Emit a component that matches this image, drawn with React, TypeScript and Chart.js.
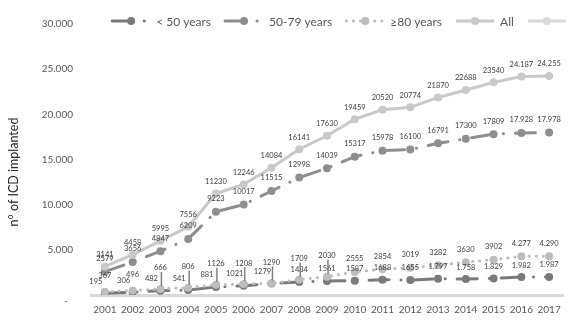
import React, { useEffect, useRef } from 'react';
import { Chart, registerables } from 'chart.js';

Chart.register(...registerables);

// ---------- data ----------
const years = ['2001', '2002', '2003', '2004', '2005', '2006', '2007', '2008', '2009', '2010', '2011', '2012', '2013', '2014', '2015', '2016', '2017'];
const under50 = [195, 306, 482, 541, 881, 1021, 1279, 1434, 1561, 1587, 1688, 1655, 1797, 1758, 1829, 1982, 1987];
const age50to79 = [2579, 3656, 4847, 6209, 9223, 10017, 11515, 12998, 14039, 15317, 15978, 16100, 16791, 17300, 17809, 17928, 17978];
const over80 = [367, 496, 666, 806, 1126, 1208, 1290, 1709, 2030, 2555, 2854, 3019, 3282, 3630, 3902, 4277, 4290];
const allAges = [3141, 4458, 5995, 7556, 11230, 12246, 14084, 16141, 17630, 19459, 20520, 20774, 21870, 22688, 23540, 24187, 24255];
const seriesNames = ['< 50 years', '50-79 years', '≥80 years', 'All', ''];
const yTickValues = [0, 5000, 10000, 15000, 20000, 25000, 30000];
// index (per series) from which the data label is written with a thousands separator
const separatorFrom = [12, 15, 15, 15];
const yTitle = 'n° of ICD implanted';

// ---------- styles ----------
const FONT = 'Lato, "Open Sans", sans-serif';
const TEXT = '#595959';
const LABEL_TEXT = '#404040';

const fmtThousands = (v: number) => {
  const s = String(Math.round(v));
  return s.replace(/\B(?=(\d{3})+(?!\d))/g, '.');
};

const labelStyles: any[] = [
  { dy: -12, shift: [0, 6], dx: -9 },
  { dy: -13 },
  { dy: -13, early: [0, 1], earlyDy: -16, raised: [2, 8], raisedDy: -21 },
  { dy: -12 },
];

const valueLabels = {
  id: 'valueLabels',
  afterDatasetsDraw(chart: any) {
    const ctx = chart.ctx;
    ctx.save();
    ctx.font = `7.5px ${FONT}`;
    ctx.textAlign = 'center';
    ctx.textBaseline = 'middle';
    chart.data.datasets.forEach((d: any, di: number) => {
      const cfg = labelStyles[di];
      if (!cfg) return;
      const meta = chart.getDatasetMeta(di);
      meta.data.forEach((pt: any, i: number) => {
        const v = d.data[i];
        if (v == null) return;
        let dy = cfg.dy;
        let dx = 0;
        const inRange = (r: number[] | undefined) => r && i >= r[0] && i <= r[1];
        if (inRange(cfg.early)) dy = cfg.earlyDy;
        const raised = inRange(cfg.raised);
        if (raised) dy = cfg.raisedDy;
        if (inRange(cfg.shift)) dx = cfg.dx;
        const txt = i >= separatorFrom[di] ? fmtThousands(v) : String(v);
        if (raised) {
          ctx.strokeStyle = '#7f7f7f';
          ctx.lineWidth = 1.5;
          ctx.beginPath();
          ctx.moveTo(pt.x + 1, pt.y + dy + 4);
          ctx.lineTo(pt.x + 1, pt.y - 3);
          ctx.stroke();
        }
        ctx.fillStyle = LABEL_TEXT;
        ctx.fillText(txt, pt.x + dx, pt.y + dy);
      });
    });
    ctx.restore();
  },
};

const excelLegend = {
  id: 'excelLegend',
  afterDraw(chart: any) {
    const ctx = chart.ctx;
    const ds = chart.data.datasets;
    ctx.save();
    ctx.font = `12px ${FONT}`;
    const sym = 42;
    const gapText = 4;
    const gapItem = 12;
    const widths = ds.map((d: any) => (d.label ? ctx.measureText(d.label).width : 0));
    let total = 0;
    ds.forEach((d: any, i: number) => {
      total += sym + (widths[i] > 0 ? gapText + widths[i] : 0);
    });
    total += gapItem * (ds.length - 1);
    const center = (chart.chartArea.left + chart.chartArea.right) / 2 + 12;
    let x = center - total / 2;
    const y = 21;
    ds.forEach((d: any, i: number) => {
      ctx.strokeStyle = d.borderColor;
      ctx.lineWidth = d.borderWidth;
      ctx.lineCap = d.borderCapStyle || 'butt';
      ctx.setLineDash(d.borderDash || []);
      ctx.beginPath();
      ctx.moveTo(x + 2, y);
      ctx.lineTo(x + sym - 2, y);
      ctx.stroke();
      ctx.setLineDash([]);
      ctx.fillStyle = d.pointBackgroundColor;
      ctx.beginPath();
      ctx.arc(x + sym / 2, y, d.pointRadius, 0, Math.PI * 2);
      ctx.fill();
      x += sym;
      if (widths[i] > 0) {
        ctx.fillStyle = TEXT;
        ctx.textAlign = 'left';
        ctx.textBaseline = 'middle';
        ctx.fillText(d.label, x + gapText, y + 1);
        x += gapText + widths[i];
      }
      x += gapItem;
    });
    ctx.restore();
  },
};

const axisTitle = {
  id: 'axisTitle',
  afterDraw(chart: any) {
    const ctx = chart.ctx;
    ctx.save();
    ctx.translate(14, 172);
    ctx.rotate(-Math.PI / 2);
    ctx.font = `12.5px ${FONT}`;
    ctx.fillStyle = '#262626';
    ctx.textAlign = 'center';
    ctx.textBaseline = 'middle';
    ctx.fillText(yTitle, 0, 0);
    ctx.restore();
  },
};

const dashDot = [20, 12, 0.1, 12];

export default function App() {
  const ref = useRef<HTMLCanvasElement>(null);
  useEffect(() => {
    document.body.style.margin = '0';
    const mk = (i: number, data: number[], color: string, dash: number[], order: number) => ({
      label: seriesNames[i],
      data,
      borderColor: color,
      backgroundColor: color,
      pointBackgroundColor: color,
      pointBorderColor: color,
      pointBorderWidth: 0,
      pointRadius: 4,
      borderWidth: 3,
      borderDash: dash,
      borderCapStyle: dash.length ? 'round' : 'butt',
      tension: 0,
      fill: false,
      order,
    });
    const chart = new Chart(ref.current!, {
      type: 'line',
      data: {
        labels: years,
        datasets: [
          mk(0, under50, '#7a7a7a', dashDot, 4),
          mk(1, age50to79, '#8e8e8e', dashDot, 3),
          mk(2, over80, '#bdbdbd', [0.1, 7], 2),
          mk(3, allAges, '#c9c9c9', [], 1),
          mk(4, [], '#dadada', [], 0),
        ] as any,
      },
      options: {
        animation: false,
        responsive: true,
        maintainAspectRatio: false,
        layout: { padding: { top: 15, right: 11, left: 0, bottom: 0 } },
        plugins: {
          legend: { display: false },
          tooltip: { enabled: false },
        },
        scales: {
          x: {
            offset: true,
            grid: { display: false, drawTicks: false },
            border: { display: true, color: '#d9d9d9', width: 3 },
            ticks: { color: TEXT, font: { family: FONT, size: 10 }, padding: 9, maxRotation: 0, autoSkip: false },
            afterFit: (s: any) => { s.height = 21; },
          },
          y: {
            min: 0,
            max: 30000,
            grid: { display: false, drawTicks: false },
            border: { display: false },
            afterBuildTicks: (s: any) => { s.ticks = yTickValues.map((v) => ({ value: v })); },
            ticks: {
              color: TEXT,
              font: { family: FONT, size: 10 },
              padding: 18,
              callback: (v: any) => (Number(v) === 0 ? ['', '-  '] : fmtThousands(Number(v))),
            },
            afterFit: (s: any) => { s.width = 91; },
          },
        },
      } as any,
      plugins: [valueLabels, excelLegend, axisTitle],
    });
    return () => chart.destroy();
  }, []);
  return (
    <div style={{ position: 'fixed', left: 0, top: 0, width: 574, height: 325 }}>
      <canvas ref={ref} />
    </div>
  );
}
